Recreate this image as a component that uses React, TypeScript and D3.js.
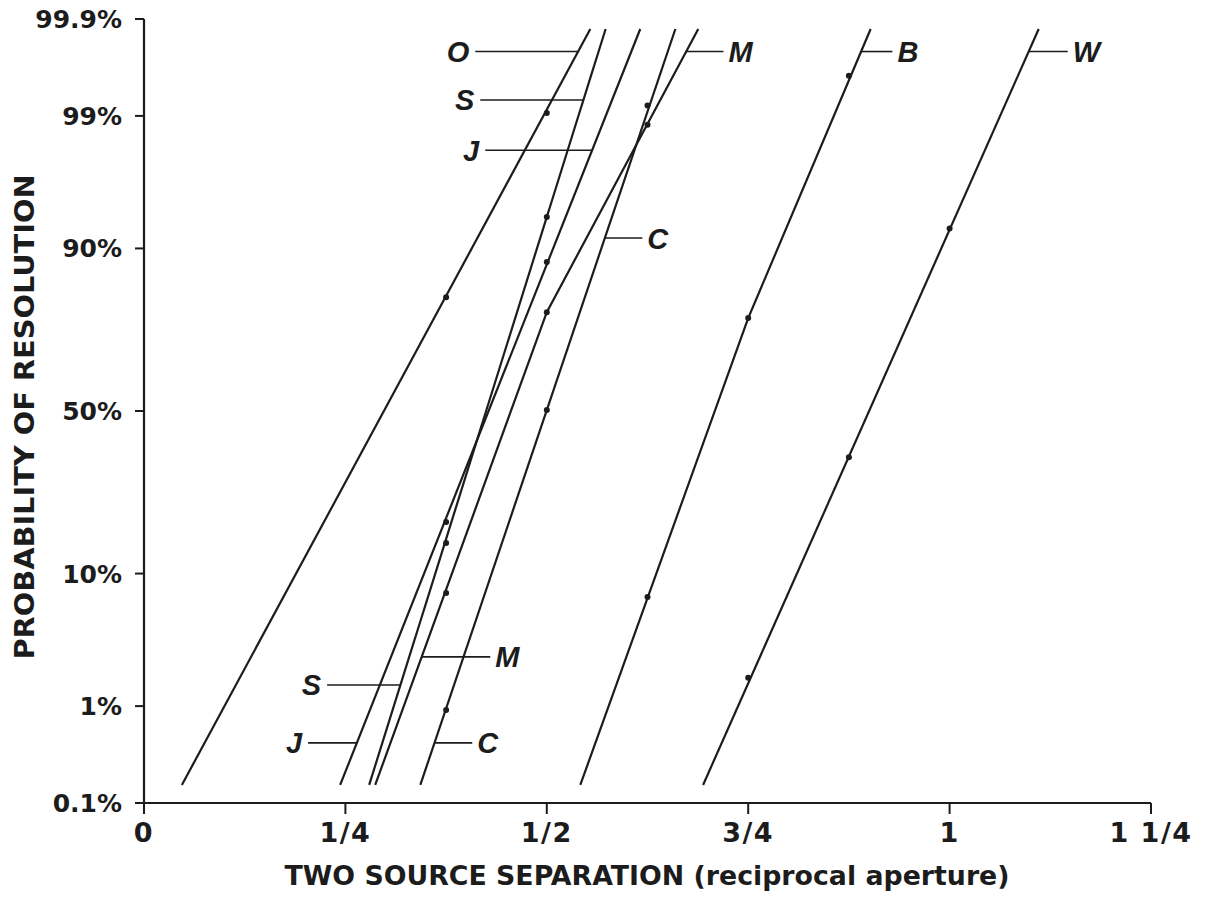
import React from "react";
import * as d3 from "d3";

// ---- axis ticks ----
const X_TICK_VALUES = [0, 0.25, 0.5, 0.75, 1, 1.25];
const X_TICK_LABELS = ["0", "1/4", "1/2", "3/4", "1", "1 1/4"];
const Y_TICK_VALUES = [0.001, 0.01, 0.1, 0.5, 0.9, 0.99, 0.999];
const Y_TICK_LABELS = ["0.1%", "1%", "10%", "50%", "90%", "99%", "99.9%"];

// ---- fitted lines: [separation, probability] vertices ----
const LINE_O = [[0.047, 0.0016], [0.554, 0.9987]];
const LINE_S = [[0.2795, 0.0016], [0.573, 0.9987]];
const LINE_J = [[0.2435, 0.0016], [0.616, 0.9987]];
const LINE_M = [[0.287, 0.0016], [0.5, 0.782], [0.688, 0.9987]];
const LINE_C = [[0.343, 0.0016], [0.6596, 0.9987]];
const LINE_B = [[0.5416, 0.0016], [0.75, 0.768], [0.902, 0.9987]];
const LINE_W = [[0.694, 0.0016], [1.1106, 0.9987]];

// ---- observed points: [separation, probability] ----
const PTS_O = [[0.375, 0.815], [0.5, 0.9906]];
const PTS_S = [[0.375, 0.149], [0.5, 0.937]];
const PTS_J = [[0.375, 0.191], [0.5, 0.88]];
const PTS_M = [[0.375, 0.0758], [0.5, 0.782], [0.625, 0.988]];
const PTS_C = [[0.375, 0.0092], [0.5, 0.503], [0.625, 0.992]];
const PTS_B = [[0.625, 0.0714], [0.75, 0.768], [0.875, 0.9959]];
const PTS_W = [[0.75, 0.0177], [0.875, 0.358], [1.0, 0.925]];

const SERIES_NAMES = ["O", "S", "J", "M", "C", "B", "W"];
const SERIES_LINES = [LINE_O, LINE_S, LINE_J, LINE_M, LINE_C, LINE_B, LINE_W];
const SERIES_POINTS = [PTS_O, PTS_S, PTS_J, PTS_M, PTS_C, PTS_B, PTS_W];

// ---- line labels: series, probability level, connector tip separation, side ----
const LABEL_SERIES = ["O", "S", "J", "M", "C", "B", "W", "M", "S", "J", "C"];
const LABEL_PROB = [0.9977, 0.9929, 0.9801, 0.9977, 0.9136, 0.9977, 0.9977, 0.0263, 0.0154, 0.00445, 0.00445];
const LABEL_TIP = [0.4112, 0.4174, 0.4236, 0.7193, 0.6186, 0.929, 1.1466, 0.4298, 0.2273, 0.2037, 0.4075];
const LABEL_SIDE = ["left", "left", "left", "right", "right", "right", "right", "right", "left", "left", "right"];

function probit(p: number): number {
  const a = [-3.969683028665376e1, 2.209460984245205e2, -2.759285104469687e2, 1.38357751867269e2, -3.066479806614716e1, 2.506628277459239];
  const b = [-5.447609879822406e1, 1.615858368580409e2, -1.556989798598866e2, 6.680131188771972e1, -1.328068155288572e1];
  const c = [-7.784894002430293e-3, -3.223964580411365e-1, -2.400758277161838, -2.549732539343734, 4.374664141464968, 2.938163982698783];
  const d = [7.784695709041462e-3, 3.224671290700398e-1, 2.445134137142996, 3.754408661907416];
  const plow = 0.02425;
  if (p < plow) {
    const q = Math.sqrt(-2 * Math.log(p));
    return (((((c[0] * q + c[1]) * q + c[2]) * q + c[3]) * q + c[4]) * q + c[5]) / ((((d[0] * q + d[1]) * q + d[2]) * q + d[3]) * q + 1);
  }
  if (p <= 1 - plow) {
    const q = p - 0.5;
    const r = q * q;
    return ((((((a[0] * r + a[1]) * r + a[2]) * r + a[3]) * r + a[4]) * r + a[5]) * q) / (((((b[0] * r + b[1]) * r + b[2]) * r + b[3]) * r + b[4]) * r + 1);
  }
  const q = Math.sqrt(-2 * Math.log(1 - p));
  return -(((((c[0] * q + c[1]) * q + c[2]) * q + c[3]) * q + c[4]) * q + c[5]) / ((((d[0] * q + d[1]) * q + d[2]) * q + d[3]) * q + 1);
}

const W = 1215;
const H = 900;
const INK = "#1c1c1c";

export default function App() {
  const x = d3.scaleLinear().domain([0, 1.25]).range([144, 1151]);
  const zScale = d3.scaleLinear().domain([probit(0.001), probit(0.999)]).range([803, 19]);
  const y = (p: number) => zScale(probit(p));

  const line = d3
    .line<number[]>()
    .x((d) => x(d[0]))
    .y((d) => y(d[1]));

  const xAt = (verts: number[][], p: number) => {
    const z = probit(p);
    for (let i = 0; i < verts.length - 1; i++) {
      const z0 = probit(verts[i][1]);
      const z1 = probit(verts[i + 1][1]);
      if ((z >= z0 && z <= z1) || i === verts.length - 2) {
        return verts[i][0] + ((z - z0) / (z1 - z0)) * (verts[i + 1][0] - verts[i][0]);
      }
    }
    return verts[0][0];
  };

  const tickFont = "'DejaVu Sans', sans-serif";
  const labelFont = "'Liberation Sans', Arial, sans-serif";

  return (
    <svg
      width={W}
      height={H}
      viewBox={`0 0 ${W} ${H}`}
      style={{ position: "absolute", left: 0, top: 0, background: "#fff" }}
    >
      <rect x={0} y={0} width={W} height={H} fill="#fff" />

      {/* axes */}
      <line x1={x(0)} x2={x(0)} y1={y(0.999)} y2={y(0.001)} stroke={INK} strokeWidth={2.2} />
      <line x1={x(0)} x2={x(1.25)} y1={y(0.001)} y2={y(0.001)} stroke={INK} strokeWidth={2.2} />

      {Y_TICK_VALUES.map((v, i) => (
        <g key={"yt" + i}>
          <line x1={x(0) - 9} x2={x(0)} y1={y(v)} y2={y(v)} stroke={INK} strokeWidth={2} />
          <text
            x={x(0) - 22}
            y={y(v)}
            dy="0.36em"
            textAnchor="end"
            fontFamily={tickFont}
            fontWeight="bold"
            fontSize={25}
            fill={INK}
          >
            {Y_TICK_LABELS[i]}
          </text>
        </g>
      ))}

      {X_TICK_VALUES.map((v, i) => (
        <g key={"xt" + i}>
          <line x1={x(v)} x2={x(v)} y1={y(0.001)} y2={y(0.001) + 11} stroke={INK} strokeWidth={2} />
          <text
            x={x(v)}
            y={842}
            textAnchor="middle"
            fontFamily={tickFont}
            fontWeight="bold"
            fontSize={27}
            letterSpacing={1.5}
            fill={INK}
          >
            {X_TICK_LABELS[i]}
          </text>
        </g>
      ))}

      {/* axis titles */}
      <text
        x={647}
        y={885}
        textAnchor="middle"
        fontFamily={tickFont}
        fontWeight="bold"
        fontSize={26}
        textLength={725}
        lengthAdjust="spacingAndGlyphs"
        fill={INK}
      >
        TWO SOURCE SEPARATION (reciprocal aperture)
      </text>
      <text
        transform="translate(34,417) rotate(-90)"
        textAnchor="middle"
        fontFamily={tickFont}
        fontWeight="bold"
        fontSize={26}
        textLength={485}
        lengthAdjust="spacingAndGlyphs"
        fill={INK}
      >
        PROBABILITY OF RESOLUTION
      </text>

      {/* fitted lines */}
      {SERIES_LINES.map((verts, i) => (
        <path key={"l" + i} d={line(verts) || ""} fill="none" stroke={INK} strokeWidth={2.2} />
      ))}

      {/* observed points */}
      {SERIES_POINTS.map((pts, i) =>
        pts.map((pt, j) => (
          <circle key={"p" + i + "-" + j} cx={x(pt[0])} cy={y(pt[1])} r={3} fill={INK} />
        ))
      )}

      {/* labels */}
      {LABEL_SERIES.map((name, i) => {
        const idx = SERIES_NAMES.indexOf(name);
        const py = y(LABEL_PROB[i]);
        const lx = x(xAt(SERIES_LINES[idx], LABEL_PROB[i]));
        const tx = x(LABEL_TIP[i]);
        const left = LABEL_SIDE[i] === "left";
        return (
          <g key={"lab" + i}>
            <line x1={lx} x2={tx} y1={py} y2={py} stroke={INK} strokeWidth={1.6} />
            <text
              x={left ? tx - 6 : tx + 5}
              y={py}
              dy="0.36em"
              textAnchor={left ? "end" : "start"}
              fontFamily={labelFont}
              fontWeight="bold"
              fontStyle="italic"
              fontSize={29}
              fill={INK}
            >
              {name}
            </text>
          </g>
        );
      })}
    </svg>
  );
}
